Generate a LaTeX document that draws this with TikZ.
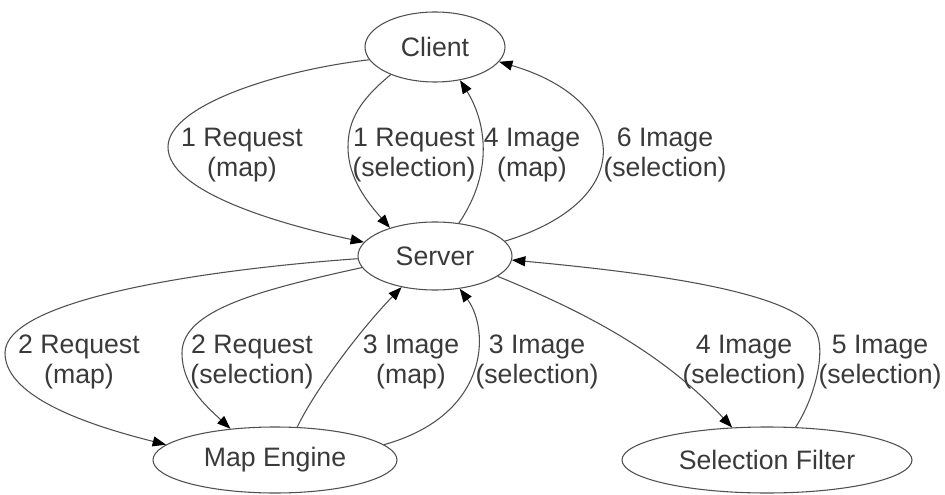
\documentclass[tikz,border=0pt]{standalone}
\usepackage{fontspec}
\setmainfont{Liberation Sans}
\usetikzlibrary{shapes.geometric,arrows.meta}
\definecolor{inkline}{HTML}{505050}
\definecolor{inktext}{HTML}{3A3A3A}
\begin{document}
\begin{tikzpicture}[x=0.75pt,y=-0.75pt,
  every node/.style={font=\fontsize{20}{23}\selectfont, text=inktext},
  state/.style={ellipse, draw=inkline, line width=0.8pt, inner sep=0pt},
  lbl/.style={align=center, inner sep=0pt},
  flow/.style={draw=inkline, line width=0.8pt,
    -{Triangle[length=10pt,width=7.5pt,color=black]}}]
  \fill[white] (0,0) rectangle (945,495);
  \useasboundingbox (0,0) rectangle (945,495);

  % processes
  \node[state, minimum width=105pt, minimum height=52.5pt] (C) at (435,47) {Client};
  \node[state, minimum width=115.5pt, minimum height=51pt] (S) at (435,256) {Server};
  \node[state, minimum width=183pt, minimum height=49.5pt] (M) at (275,460) {Map Engine};
  \node[state, minimum width=217.5pt, minimum height=49.5pt] (F) at (767,460) {Selection Filter};

  % client <-> server
  \draw[flow] (C.191) .. controls (280,70) and (168,105) .. (168,147)
                      .. controls (168,190) and (270,222) .. (S.169);
  \draw[flow] (C.212) .. controls (360,100) and (348,120) .. (348,147)
                      .. controls (348,180) and (370,205) .. (S.148);
  \draw[flow] (S.54) .. controls (495,170) and (485,120) .. (C.307);
  \draw[flow] (S.12) .. controls (640,200) and (630,100) .. (C.347);

  % server <-> map engine
  \draw[flow] (S.182) .. controls (200,270) and (5,300) .. (5,353)
                      .. controls (5,400) and (100,428) .. (M.172);
  \draw[flow] (S.189) .. controls (260,290) and (182,310) .. (182,353)
                      .. controls (182,385) and (205,405) .. (M.145);
  \draw[flow] (M.56) .. controls (315,390) and (360,330) .. (S.223);
  \draw[flow] (M.8) .. controls (490,415) and (490,330) .. (S.307);

  % server <-> selection filter
  \draw[flow] (S.342) .. controls (580,310) and (660,350) .. (F.137);
  \draw[flow] (F.49) .. controls (815,398) and (827,349) .. (815,330)
                     .. controls (790,290) and (640,272) .. (S.357);

  % message labels
  \node[lbl] (l1) at (242,155) {1 Request\\(map)};
  \node[lbl] (l2) at (414,155) {1 Request\\(selection)};
  \node[lbl] (l3) at (532,155) {4 Image\\(map)};
  \node[lbl] (l4) at (665,155) {6 Image\\(selection)};
  \node[lbl] (l5) at (79,362) {2 Request\\(map)};
  \node[lbl] (l6) at (252,362) {2 Request\\(selection)};
  \node[lbl] (l7) at (411,362) {3 Image\\(map)};
  \node[lbl] (l8) at (537,362) {3 Image\\(selection)};
  \node[lbl] (l9) at (744,362) {4 Image\\(selection)};
  \node[lbl] (l10) at (880,362) {5 Image\\(selection)};
\end{tikzpicture}
\end{document}
